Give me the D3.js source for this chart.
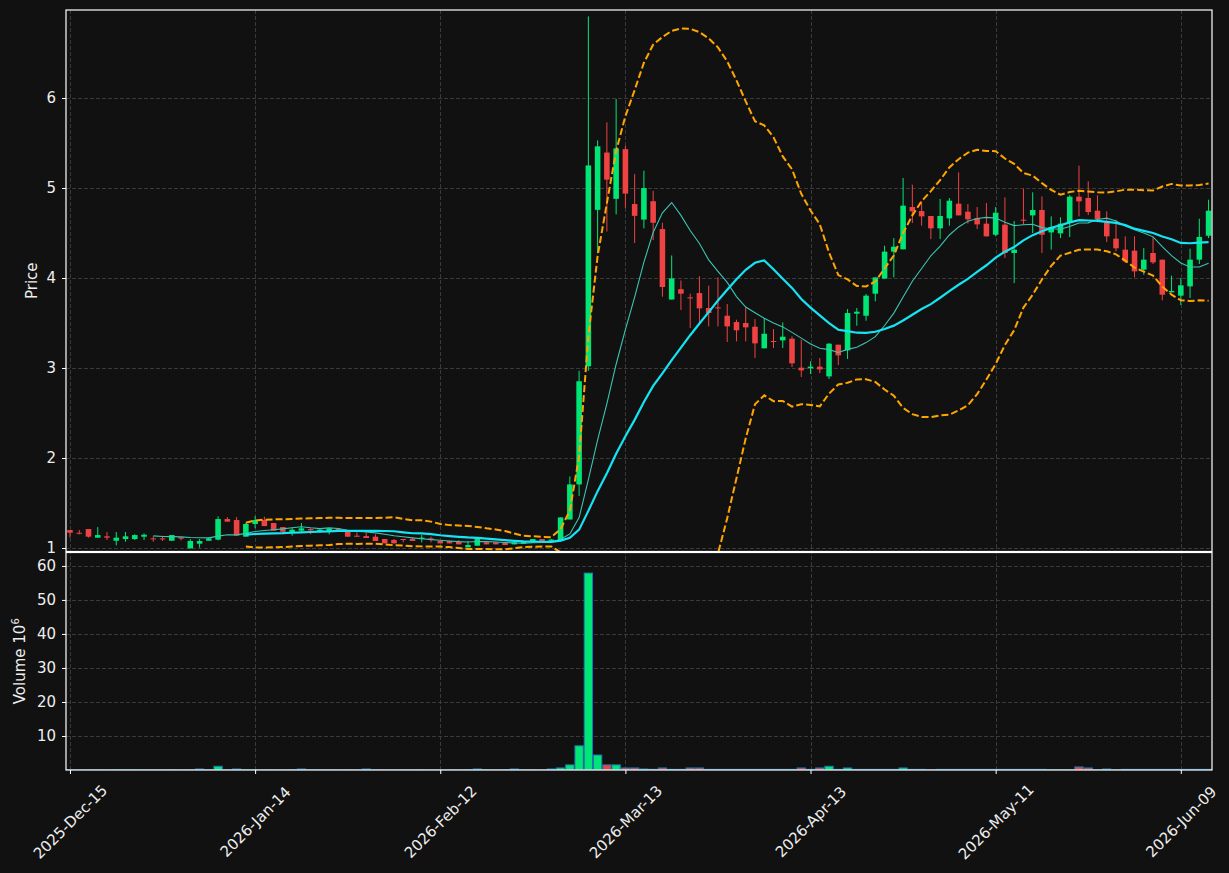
<!DOCTYPE html>
<meta charset="utf-8">
<body style="margin:0;background:#111111">
<script src="https://d3js.org/d3.v7.min.js"></script>
<svg></svg>
<script>
    var width = 1229;
    var height = 873;

    // daily OHLC, one entry per trading day from 2025-Dec-15 to 2026-Jun-12
    var opens = [1.20,1.17,1.211,1.115,1.13,1.081,1.10,1.10,1.126,1.107,1.107,1.081,1.118,0.996,1.048,1.081,1.093,1.322,1.311,1.126,
        1.267,1.311,1.278,1.233,1.174,1.193,1.211,1.18,1.189,1.215,1.181,1.137,1.133,1.126,1.10,1.089,1.10,1.10,1.10,1.107,
        1.078,1.078,1.07,1.007,1.026,1.063,1.063,1.056,1.041,1.048,1.07,1.10,1.08,1.08,1.317,1.707,3.019,4.757,5.394,4.88,
        5.432,4.822,4.649,4.853,4.544,3.761,3.876,3.785,3.833,3.667,3.674,3.581,3.511,3.50,3.459,3.219,3.30,3.307,3.326,3.004,
        2.996,3.015,2.907,3.259,3.196,3.604,3.581,3.826,3.993,4.293,4.319,4.789,4.744,4.689,4.552,4.663,4.826,4.737,4.667,4.604,
        4.481,4.593,4.278,4.648,4.696,4.756,4.507,4.496,4.619,4.904,4.889,4.748,4.622,4.437,4.315,4.304,4.093,4.278,4.204,3.841,
        3.804,3.907,4.204,4.47];
    var highs = [1.20,1.20,1.211,1.233,1.178,1.178,1.178,1.152,1.163,1.13,1.137,1.144,1.118,1.10,1.10,1.118,1.352,1.344,1.344,1.278,
        1.356,1.348,1.278,1.233,1.226,1.278,1.219,1.211,1.219,1.219,1.181,1.174,1.174,1.152,1.10,1.10,1.10,1.115,1.144,1.126,
        1.078,1.085,1.089,1.078,1.107,1.07,1.07,1.06,1.07,1.075,1.10,1.10,1.10,1.34,1.795,2.969,6.907,5.529,5.73,5.99,
        5.47,5.154,5.193,4.969,4.614,4.251,3.973,3.826,4.02,3.915,4.007,3.711,3.537,3.674,3.544,3.556,3.433,3.507,3.352,3.315,
        3.074,3.111,3.278,3.259,3.656,3.667,3.822,4.007,4.359,4.444,5.111,5.037,4.852,4.689,4.878,4.889,5.174,4.822,4.789,4.833,
        4.789,4.896,4.633,4.993,4.952,4.907,4.685,4.674,4.922,5.248,5.074,4.919,4.741,4.648,4.463,4.463,4.333,4.456,4.204,4.026,
        4.0,4.326,4.659,4.87];
    var lows = [1.115,1.152,1.115,1.115,1.089,1.03,1.07,1.089,1.089,1.07,1.078,1.081,1.085,0.996,1.004,1.081,1.085,1.293,1.137,1.126,
        1.219,1.244,1.193,1.152,1.137,1.174,1.152,1.174,1.152,1.19,1.126,1.126,1.111,1.078,1.052,1.05,1.063,1.078,1.063,1.063,
        1.05,1.052,1.041,1.007,1.026,1.041,1.041,1.033,1.041,1.048,1.07,1.078,1.075,1.07,1.317,1.579,2.969,4.274,4.517,4.707,
        4.776,4.39,4.552,4.421,3.792,3.761,3.645,3.444,3.48,3.463,3.463,3.289,3.296,3.296,3.111,3.219,3.222,3.222,3.011,2.90,
        2.933,2.944,2.878,3.033,3.10,3.47,3.526,3.741,3.993,4.007,4.319,4.611,4.581,4.433,4.433,4.581,4.696,4.604,4.544,4.463,
        4.463,4.222,3.944,4.593,4.50,4.278,4.315,4.444,4.456,4.685,4.70,4.619,4.40,4.296,4.167,4.007,4.037,4.156,3.752,3.841,
        3.70,3.778,4.156,4.444];
    var closes = [1.17,1.16,1.126,1.144,1.115,1.115,1.13,1.144,1.148,1.096,1.10,1.144,1.104,1.078,1.078,1.107,1.322,1.293,1.137,1.267,
        1.311,1.244,1.193,1.181,1.204,1.219,1.196,1.204,1.219,1.196,1.126,1.126,1.111,1.078,1.052,1.052,1.089,1.078,1.115,1.104,
        1.052,1.052,1.041,1.033,1.107,1.041,1.041,1.033,1.063,1.07,1.10,1.078,1.095,1.34,1.707,2.853,5.251,5.463,5.093,5.44,
        4.938,4.691,5.0,4.614,3.90,3.996,3.826,3.775,3.663,3.611,3.667,3.463,3.419,3.452,3.274,3.381,3.293,3.348,3.052,2.974,
        3.015,2.985,3.27,3.141,3.611,3.626,3.804,4.007,4.293,4.348,4.804,4.741,4.685,4.552,4.689,4.859,4.696,4.652,4.596,4.463,
        4.726,4.278,4.315,4.637,4.756,4.481,4.567,4.604,4.904,4.852,4.733,4.656,4.463,4.33,4.185,4.074,4.204,4.174,3.815,3.856,
        3.919,4.204,4.456,4.748];
    // volume in millions
    var volumes = [0.05,0.05,0.05,0.05,0.05,0.05,0.05,0.05,0.05,0.05,0.05,0.05,0.05,0.05,0.3,0.05,1.1,0.05,0.3,0.05,
        0.05,0.05,0.05,0.05,0.05,0.3,0.05,0.05,0.05,0.05,0.05,0.05,0.3,0.05,0.05,0.05,0.05,0.05,0.05,0.05,
        0.05,0.05,0.05,0.05,0.3,0.05,0.05,0.05,0.3,0.05,0.05,0.05,0.3,0.6,1.5,7.1,57.9,4.4,1.5,1.5,
        0.6,0.6,0.3,0.2,0.6,0.2,0.2,0.6,0.6,0.2,0.2,0.2,0.2,0.2,0.2,0.2,0.2,0.2,0.2,0.6,
        0.2,0.6,1.1,0.2,0.6,0.2,0.2,0.2,0.2,0.2,0.6,0.2,0.2,0.05,0.2,0.2,0.2,0.2,0.2,0.2,
        0.2,0.2,0.2,0.2,0.2,0.2,0.05,0.05,0.05,0.9,0.6,0.05,0.3,0.05,0.2,0.2,0.2,0.2,0.2,0.2,
        0.2,0.2,0.2,0.2];

    var tickIdx = [0, 20, 40, 60, 80, 100, 120];
    var tickLabels = ["2025-Dec-15", "2026-Jan-14", "2026-Feb-12", "2026-Mar-13", "2026-Apr-13", "2026-May-11", "2026-Jun-09"];
    var priceTicks = [1, 2, 3, 4, 5, 6];
    var volTicks = [10, 20, 30, 40, 50, 60];

    var upColor = "#00e676", downColor = "#ef4343";
    var textColor = "#eeeeee";

    var left = 66, right = 1212;
    var pTop = 10, pBottom = 551.5, vTop = 552.5, vBottom = 770;

    var svg = d3.select("svg")
        .attr("width", width)
        .attr("height", height)
        .style("background-color", "#111111")
        .style("font-family", "DejaVu Sans, sans-serif");

    var n = closes.length;
    var idx = d3.range(n);

    var x = d3.scaleLinear().domain([-0.43, 123.37]).range([left, right]);
    var y = d3.scaleLinear().domain([0.967, 6.978]).range([551, pTop]);
    var yv = d3.scaleLinear().domain([0, 63.8]).range([vBottom, 553]);
    var step = x(1) - x(0);

    // moving averages + bollinger (20, 2)
    function sma(arr, p) {
        return arr.map(function(d, i) {
            if (i < p - 1) return null;
            return d3.mean(arr.slice(i - p + 1, i + 1));
        });
    }
    var ma10 = sma(closes, 10);
    var ma20 = sma(closes, 20);
    var bbUp = [], bbLo = [];
    closes.forEach(function(d, i) {
        if (i < 19) { bbUp.push(null); bbLo.push(null); return; }
        var w = closes.slice(i - 19, i + 1);
        var m = d3.mean(w);
        var sd = Math.sqrt(d3.mean(w, function(v) { return (v - m) * (v - m); }));
        bbUp.push(m + 2 * sd);
        bbLo.push(m - 2 * sd);
    });

    var defs = svg.append("defs");
    defs.append("clipPath").attr("id", "pclip").append("rect")
        .attr("x", left).attr("y", pTop).attr("width", right - left).attr("height", pBottom - pTop);
    defs.append("clipPath").attr("id", "vclip").append("rect")
        .attr("x", left).attr("y", vTop).attr("width", right - left).attr("height", vBottom - vTop);

    // grids
    var grid = svg.append("g")
        .attr("stroke", "#3a3a3a").attr("stroke-width", 1).attr("stroke-dasharray", "4,2");
    grid.selectAll(".gy").data(priceTicks).enter().append("line")
        .attr("x1", left).attr("x2", right)
        .attr("y1", function(d) { return Math.round(y(d)) + 0.5; })
        .attr("y2", function(d) { return Math.round(y(d)) + 0.5; });
    grid.selectAll(".gv").data(volTicks).enter().append("line")
        .attr("x1", left).attr("x2", right)
        .attr("y1", function(d) { return Math.round(yv(d)) + 0.5; })
        .attr("y2", function(d) { return Math.round(yv(d)) + 0.5; });
    grid.selectAll(".gx").data(tickIdx).enter().append("line")
        .attr("x1", function(d) { return Math.round(x(d)) + 0.5; })
        .attr("x2", function(d) { return Math.round(x(d)) + 0.5; })
        .attr("y1", pTop).attr("y2", vBottom);

    // candles
    var price = svg.append("g").attr("clip-path", "url(#pclip)");
    var candles = price.selectAll(".c").data(idx).enter().append("g");
    candles.append("line")
        .attr("x1", function(i) { return x(i); })
        .attr("x2", function(i) { return x(i); })
        .attr("y1", function(i) { return y(highs[i]); })
        .attr("y2", function(i) { return y(lows[i]); })
        .attr("stroke", function(i) { return closes[i] >= opens[i] ? upColor : downColor; })
        .attr("stroke-width", 1);
    candles.append("rect")
        .attr("x", function(i) { return x(i) - step * 0.3; })
        .attr("width", step * 0.6)
        .attr("y", function(i) { return y(Math.max(opens[i], closes[i])); })
        .attr("height", function(i) { return Math.max(1, Math.abs(y(opens[i]) - y(closes[i]))); })
        .attr("fill", function(i) { return closes[i] >= opens[i] ? upColor : downColor; });

    var line = function(arr) {
        return d3.line()
            .defined(function(i) { return arr[i] != null; })
            .x(function(i) { return x(i); })
            .y(function(i) { return y(arr[i]); })(idx);
    };
    price.append("path").attr("d", line(ma10))
        .attr("fill", "none").attr("stroke", "#3cc4b4").attr("stroke-width", 1.1);
    price.append("path").attr("d", line(ma20))
        .attr("fill", "none").attr("stroke", "#14e4f4").attr("stroke-width", 2.2);
    [bbUp, bbLo].forEach(function(b) {
        price.append("path").attr("d", line(b))
            .attr("fill", "none").attr("stroke", "#ffa500").attr("stroke-width", 2)
            .attr("stroke-dasharray", "7,3");
    });

    // volume bars
    svg.append("g").attr("clip-path", "url(#vclip)")
        .selectAll("rect").data(idx).enter().append("rect")
        .attr("x", function(i) { return x(i) - step * 0.45; })
        .attr("width", step * 0.9)
        .attr("y", function(i) { return yv(volumes[i]); })
        .attr("height", function(i) { return vBottom - yv(volumes[i]); })
        .attr("fill", function(i) { return closes[i] >= opens[i] ? upColor : downColor; })
        .attr("stroke", "#1f77b4").attr("stroke-width", 1);

    // frames
    svg.append("rect").attr("x", left).attr("y", pTop).attr("width", right - left).attr("height", pBottom - pTop)
        .attr("fill", "none").attr("stroke", "#ffffff").attr("stroke-width", 1.2);
    svg.append("rect").attr("x", left).attr("y", vTop).attr("width", right - left).attr("height", vBottom - vTop)
        .attr("fill", "none").attr("stroke", "#ffffff").attr("stroke-width", 1.2);

    // axes
    var yAxis = svg.append("g").attr("transform", "translate(" + left + ",0)")
        .call(d3.axisLeft(y).tickValues(priceTicks).tickSize(4).tickPadding(6).tickFormat(d3.format("d")));
    var vAxis = svg.append("g").attr("transform", "translate(" + left + ",0)")
        .call(d3.axisLeft(yv).tickValues(volTicks).tickSize(4).tickPadding(6).tickFormat(d3.format("d")));
    var xAxis = svg.append("g").attr("transform", "translate(0," + vBottom + ")")
        .call(d3.axisBottom(x).tickValues(tickIdx).tickSize(4).tickFormat(function(d, i) { return tickLabels[i]; }));
    [yAxis, vAxis, xAxis].forEach(function(a) {
        a.select(".domain").remove();
        a.selectAll("line").attr("stroke", "#ffffff");
        a.selectAll("text").attr("fill", textColor).style("font-size", "15px").style("font-family", "DejaVu Sans, sans-serif");
    });
    xAxis.selectAll("text")
        .attr("y", 0).attr("dy", 0)
        .attr("text-anchor", "middle")
        .attr("dominant-baseline", "central")
        .attr("transform", "translate(0,52) rotate(-45)");

    svg.append("text").attr("transform", "translate(37," + ((pTop + pBottom) / 2) + ") rotate(-90)")
        .attr("text-anchor", "middle").attr("fill", textColor).style("font-size", "15px")
        .text("Price");
    var vl = svg.append("text").attr("transform", "translate(25," + ((vTop + vBottom) / 2) + ") rotate(-90)")
        .attr("text-anchor", "middle").attr("fill", textColor).style("font-size", "15px");
    vl.append("tspan").text("Volume  10");
    vl.append("tspan").attr("dy", -6).style("font-size", "10px").text("6");
</script>
